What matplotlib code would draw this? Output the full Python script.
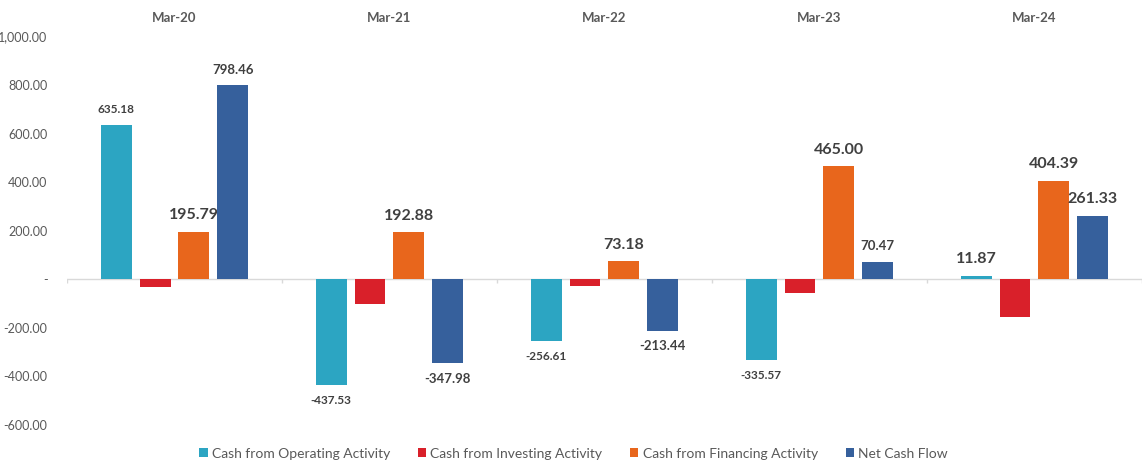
import matplotlib
matplotlib.use("Agg")
import matplotlib.pyplot as plt
import numpy as np

categories = ["Mar-20", "Mar-21", "Mar-22", "Mar-23", "Mar-24"]
series_names = ["Cash from Operating Activity", "Cash from Investing Activity",
                "Cash from Financing Activity", "Net Cash Flow"]
operating = [635.18, -437.53, -256.61, -335.57, 11.87]
investing = [-32.51, -103.33, -30.01, -58.96, -154.93]
financing = [195.79, 192.88, 73.18, 465.00, 404.39]
net_flow = [798.46, -347.98, -213.44, 70.47, 261.33]
y_ticks = [-600, -400, -200, 0, 200, 400, 600, 800, 1000]

colors = ["#2CA5C2", "#D9202A", "#E8661C", "#36609C"]
# label font sizes per series per category (None = no label)
label_sizes = [
    [8.5, 8.5, 8.5, 8.5, 11.5],
    [None] * 5,
    [11.5, 11.5, 11.5, 11.5, 11.5],
    [9.5, 9.5, 9.5, 9.5, 11.5],
]

plt.rcParams['font.family'] = ['Lato', 'DejaVu Sans']
fig = plt.figure(figsize=(11.47, 4.74), dpi=100)
ax = fig.add_axes([0.0584, 0.1044, 0.9372, 0.8186])

x = np.arange(len(categories))
width = 0.144
step = 0.181
data = [operating, investing, financing, net_flow]
txt_col = "#404040"
for i, (vals, c, name) in enumerate(zip(data, colors, series_names)):
    off = (i - 1.5) * step
    bars = ax.bar(x + off, vals, width, color=c, label=name, zorder=3)
    for j, (b, v) in enumerate(zip(bars, vals)):
        fs = label_sizes[i][j]
        if fs is None:
            continue
        if v >= 0:
            ax.annotate(f"{v:.2f}", (b.get_x() + b.get_width() / 2, v),
                        xytext=(0, 7), textcoords="offset points",
                        ha="center", va="bottom", fontsize=fs,
                        fontweight="bold", color=txt_col)
        else:
            ax.annotate(f"{v:.2f}", (b.get_x() + b.get_width() / 2, v),
                        xytext=(0, -7), textcoords="offset points",
                        ha="center", va="top", fontsize=fs,
                        fontweight="bold", color=txt_col)

ax.set_xlim(-0.5, len(categories) - 0.5)
ax.set_ylim(-600, 1000)
ax.set_yticks(y_ticks)
ax.set_yticklabels(["-" if t == 0 else f"{t:,.2f}" for t in y_ticks],
                   fontsize=9, color="#595959")
ax.tick_params(axis="y", length=0, pad=14)
for s in ax.spines.values():
    s.set_visible(False)

# zero axis line with boundary ticks
ax.axhline(0, color="#D9D9D9", lw=1, zorder=2)
bounds = np.arange(len(categories) + 1) - 0.5
ax.vlines(bounds, -18, 0, color="#D9D9D9", lw=1, zorder=2)

ax.xaxis.tick_top()
ax.set_xticks(x)
ax.set_xticklabels(categories, fontsize=9.5, fontweight="bold", color="#595959")
ax.tick_params(axis="x", length=0, pad=9)

fig.legend(loc="lower center", ncol=4, frameon=False, fontsize=10,
           bbox_to_anchor=(0.5, 0.004), handlelength=0.6, handleheight=0.6,
           handletextpad=0.3, columnspacing=2.0, labelcolor="#595959")

fig.savefig("out.png", dpi=100)
